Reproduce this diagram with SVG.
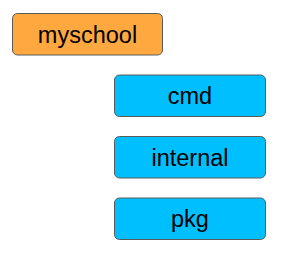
<svg xmlns="http://www.w3.org/2000/svg" width="297" height="257" viewBox="0 0 297 257">
<style>
rect{stroke:#5a5a5a;stroke-width:1}
.o{fill:#ffa83f}
.b{fill:#00bfff}
text{font-family:"Liberation Sans",Arial,sans-serif;font-size:23.5px;fill:#000;text-anchor:middle}
</style>
<rect width="297" height="257" fill="#fff" style="stroke:none"/>
<g id="myschool"><rect class="o" x="12.5" y="13.5" width="150" height="41.5" rx="5"/><text x="87.5" y="42.7">myschool</text></g>
<g id="cmd"><rect class="b" x="114.5" y="75" width="151" height="41.5" rx="5"/><text x="190" y="104.2">cmd</text></g>
<g id="internal"><rect class="b" x="114.5" y="136.5" width="151" height="41.5" rx="5"/><text x="190" y="165.7">internal</text></g>
<g id="pkg"><rect class="b" x="114.5" y="198" width="151" height="41.5" rx="5"/><text x="190" y="227.2">pkg</text></g>
<g id="connectors"></g>
</svg>
